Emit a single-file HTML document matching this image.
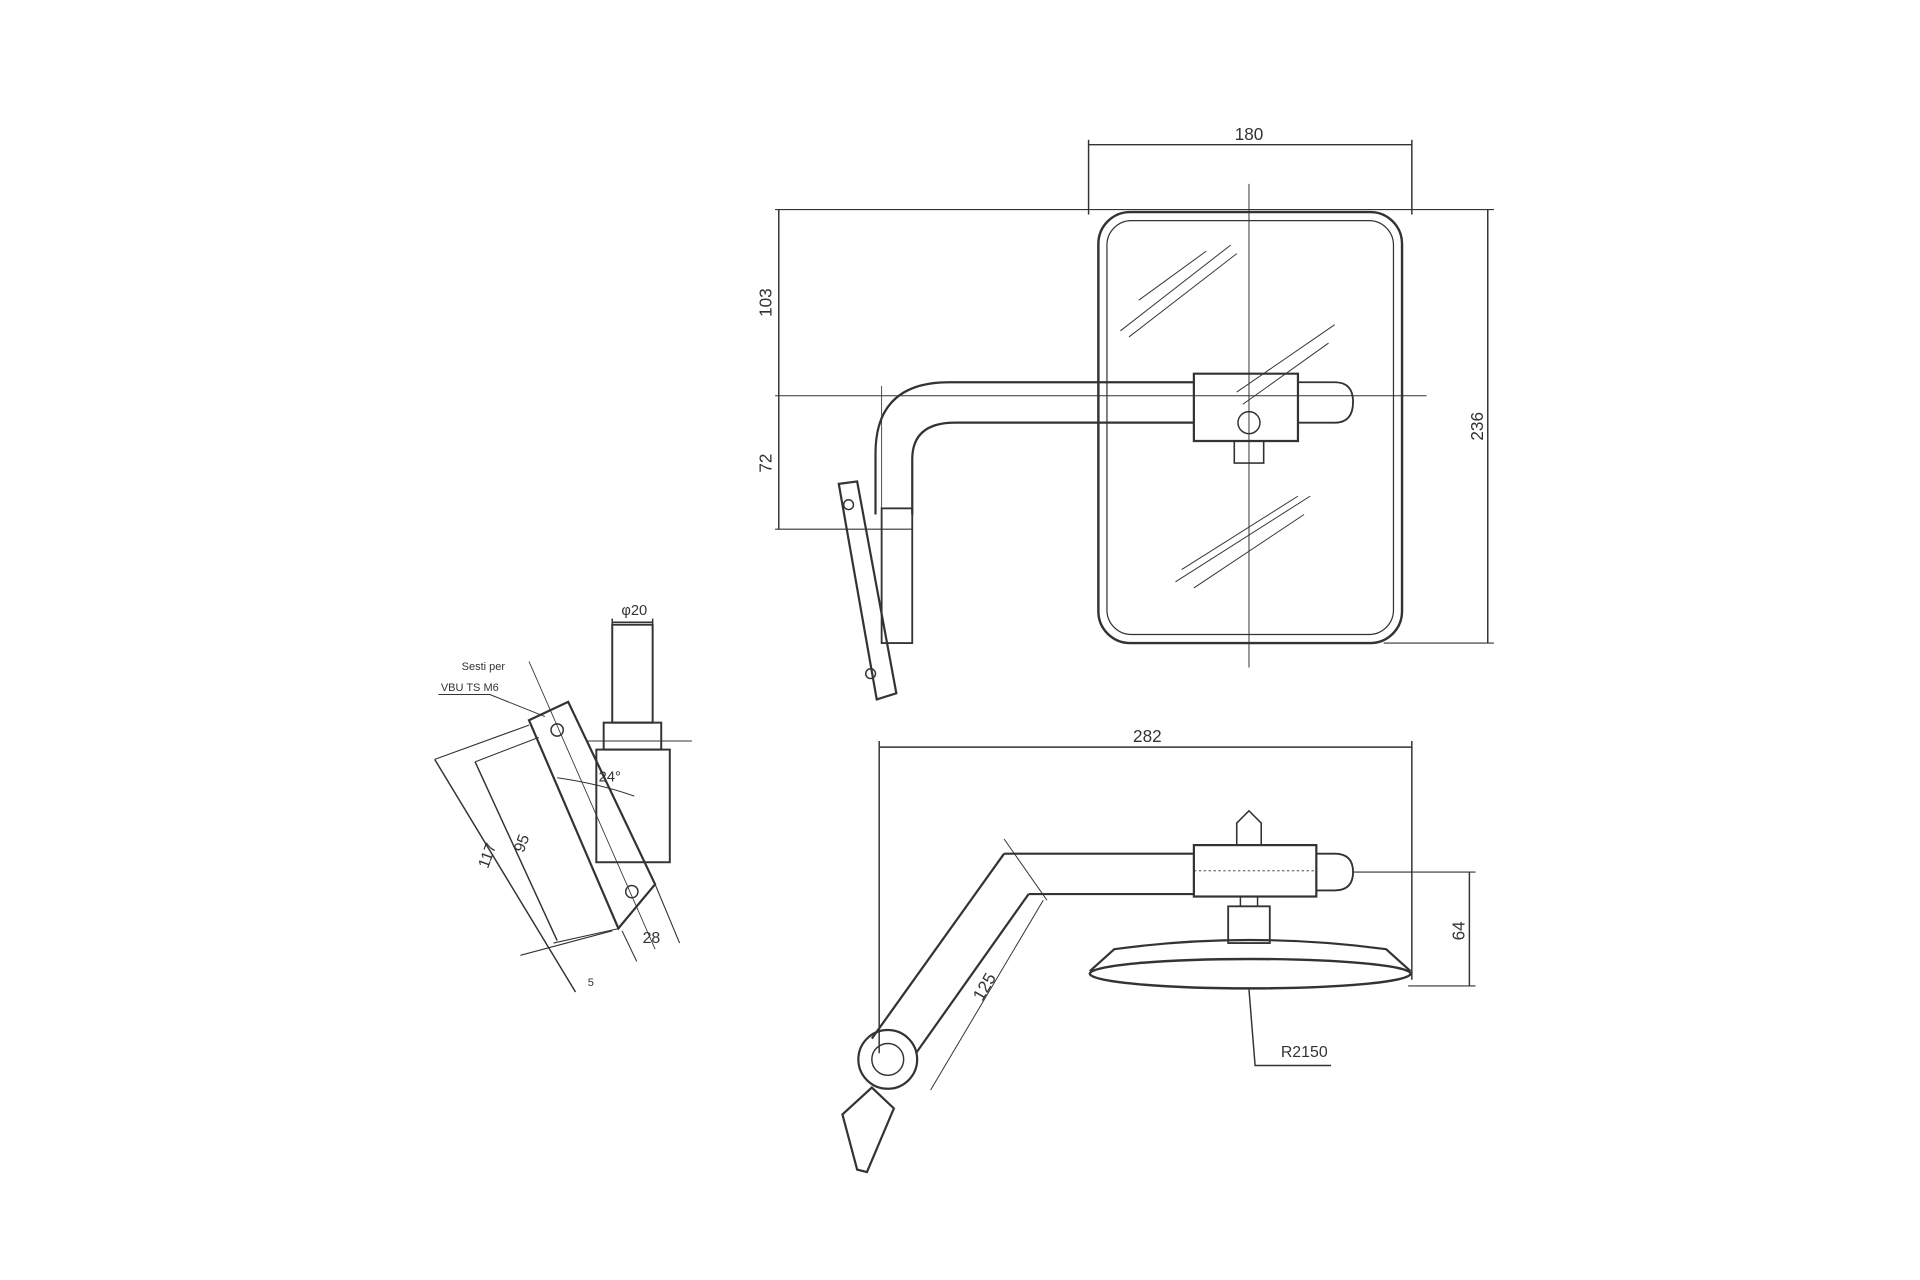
<!DOCTYPE html>
<html><head><style>html,body{margin:0;padding:0;background:#fff;width:1920px;height:1280px;overflow:hidden}</style></head>
<body>
<svg width="1920" height="1280" viewBox="0 0 1568 1045" xmlns="http://www.w3.org/2000/svg" font-family="Liberation Sans, sans-serif" fill="none" stroke="#333" stroke-width="1.2">
<!-- Front view dims -->
<line x1="889" y1="118" x2="1153" y2="118"/>
<line x1="889" y1="114" x2="889" y2="175"/>
<line x1="1153" y1="114" x2="1153" y2="175"/>
<text x="1020" y="114" font-size="14" fill="#333" stroke="none" text-anchor="middle">180</text>
<line x1="633" y1="171" x2="1220" y2="171" stroke-width="0.9"/>
<line x1="1130" y1="525" x2="1220" y2="525" stroke-width="0.9"/>
<line x1="1215" y1="171" x2="1215" y2="525"/>
<text x="0" y="0" font-size="14" fill="#333" stroke="none" text-anchor="middle" transform="translate(1211,348) rotate(-90)">236</text>
<line x1="636" y1="171" x2="636" y2="432"/>
<line x1="633" y1="323" x2="1165" y2="323" stroke-width="0.8"/>
<line x1="633" y1="432" x2="745" y2="432" stroke-width="0.9"/>
<text x="0" y="0" font-size="14" fill="#333" stroke="none" text-anchor="middle" transform="translate(630,247) rotate(-90)">103</text>
<text x="0" y="0" font-size="14" fill="#333" stroke="none" text-anchor="middle" transform="translate(630,378) rotate(-90)">72</text>
<line x1="1020" y1="150" x2="1020" y2="545" stroke-width="0.8"/>
<!-- mirror -->
<rect x="897" y="173" width="248" height="352" rx="26" stroke-width="2"/>
<rect x="904" y="180" width="234" height="338" rx="20" stroke-width="1"/>
<g stroke-width="0.8">
<line x1="915" y1="270" x2="1005" y2="200"/><line x1="922" y1="275" x2="1010" y2="207"/><line x1="930" y1="245" x2="985" y2="205"/>
<line x1="1010" y1="320" x2="1090" y2="265"/><line x1="1015" y1="330" x2="1085" y2="280"/>
<line x1="960" y1="475" x2="1070" y2="405"/><line x1="965" y1="465" x2="1060" y2="405"/><line x1="975" y1="480" x2="1065" y2="420"/>
</g>
<!-- arm -->
<path d="M715,420 L715,370 Q715,312 775,312 L975,312" stroke-width="1.8"/>
<path d="M745,420 L745,375 Q745,345 780,345 L975,345" stroke-width="1.8"/>
<line x1="720" y1="315" x2="720" y2="420" stroke-width="0.7"/>
<rect x="720" y="415" width="25" height="110" stroke-width="1.5"/>
<polygon points="685,395 700,393 732,566 716,571" stroke-width="1.8"/>
<circle cx="693" cy="412" r="4"/><circle cx="711" cy="550" r="4"/>
<path d="M975,305 L1060,305 L1060,360 L975,360 Z" stroke-width="1.8"/>
<path d="M1060,312 L1090,312 Q1105,312 1105,328 Q1105,345 1090,345 L1060,345" stroke-width="1.5"/>
<circle cx="1020" cy="345" r="9"/>
<rect x="1008" y="360" width="24" height="18" stroke-width="1.3"/>
<!-- Bottom view -->
<line x1="718" y1="610" x2="1153" y2="610"/>
<line x1="718" y1="605" x2="718" y2="860"/>
<line x1="1153" y1="605" x2="1153" y2="800"/>
<text x="937" y="606" font-size="14" fill="#333" stroke="none" text-anchor="middle">282</text>
<ellipse cx="1021" cy="795" rx="131" ry="12" stroke-width="2"/>
<path d="M890,793 L910,775 Q1020,760 1132,775 L1152,793" stroke-width="1.8"/>
<path d="M820,697 L975,697 M840,730 L975,730" stroke-width="1.8"/>
<path d="M820,697 L712,848 M840,730 L748,860" stroke-width="1.8"/>
<line x1="820" y1="685" x2="855" y2="735" stroke-width="0.8"/>
<rect x="975" y="690" width="100" height="42" stroke-width="1.8"/>
<line x1="975" y1="711" x2="1075" y2="711" stroke-dasharray="2,2" stroke-width="0.8"/>
<path d="M1075,697 L1090,697 Q1105,697 1105,712 Q1105,727 1090,727 L1075,727" stroke-width="1.5"/>
<path d="M1010,690 L1010,672 L1020,662 L1030,672 L1030,690" stroke-width="1.3"/>
<rect x="1003" y="740" width="34" height="30" stroke-width="1.5"/>
<line x1="1013" y1="732" x2="1013" y2="740"/><line x1="1027" y1="732" x2="1027" y2="740"/>
<circle cx="725" cy="865" r="24" stroke-width="1.8"/>
<circle cx="725" cy="865" r="13"/>
<polygon points="688,910 712,888 730,905 708,957 700,955" stroke-width="1.8"/>
<line x1="760" y1="890" x2="852" y2="735" stroke-width="0.8"/>
<text x="0" y="0" font-size="14" fill="#333" stroke="none" text-anchor="middle" transform="translate(808,808) rotate(-60)">125</text>
<line x1="1105" y1="712" x2="1205" y2="712" stroke-width="0.9"/>
<line x1="1150" y1="805" x2="1205" y2="805" stroke-width="0.9"/>
<line x1="1200" y1="712" x2="1200" y2="805"/>
<text x="0" y="0" font-size="14" fill="#333" stroke="none" text-anchor="middle" transform="translate(1196,760) rotate(-90)">64</text>
<polyline points="1020,808 1025,870 1087,870"/>
<text x="1046" y="863" font-size="13" fill="#333" stroke="none">R2150</text>
<!-- Side view -->
<rect x="500" y="510" width="33" height="80" stroke-width="1.6"/>
<line x1="500" y1="505" x2="500" y2="515"/><line x1="533" y1="505" x2="533" y2="515"/>
<line x1="500" y1="508" x2="533" y2="508"/>
<text x="518" y="502" font-size="12" fill="#333" stroke="none" text-anchor="middle">φ20</text>
<rect x="493" y="590" width="47" height="22" stroke-width="1.6"/>
<rect x="487" y="612" width="60" height="92" stroke-width="1.6"/>
<line x1="480" y1="605" x2="565" y2="605" stroke-width="0.8"/>
<polygon points="432,588 464,573 535,722 505,758" stroke-width="1.8"/>
<circle cx="455" cy="596" r="5"/><circle cx="516" cy="728" r="5"/>
<path d="M455,635 Q490,640 518,650" stroke-width="0.8"/>
<text x="498" y="638" font-size="12" fill="#333" stroke="none" text-anchor="middle">24°</text>
<line x1="432" y1="540" x2="535" y2="775" stroke-width="0.7"/>
<polyline points="355,620 432,592" stroke-width="0.9"/><line x1="355" y1="620" x2="470" y2="810"/>
<polyline points="388,622 440,602" stroke-width="0.9"/><line x1="388" y1="622" x2="455" y2="768"/>
<line x1="452" y1="770" x2="506" y2="758" stroke-width="0.9"/>
<line x1="425" y1="780" x2="500" y2="760" stroke-width="0.9"/>
<line x1="508" y1="760" x2="520" y2="785" stroke-width="0.9"/><line x1="535" y1="722" x2="555" y2="770" stroke-width="0.9"/>
<text x="0" y="0" font-size="13" fill="#333" stroke="none" text-anchor="middle" transform="translate(402,700) rotate(-70)">117</text>
<text x="0" y="0" font-size="13" fill="#333" stroke="none" text-anchor="middle" transform="translate(430,690) rotate(-70)">95</text>
<text x="532" y="770" font-size="13" fill="#333" stroke="none" text-anchor="middle">28</text>
<text x="480" y="805" font-size="9" fill="#333" stroke="none">5</text>
<text x="377" y="547" font-size="9" fill="#333" stroke="none">Sesti per</text>
<text x="360" y="564" font-size="9" fill="#333" stroke="none">VBU TS M6</text>
<polyline points="358,567 400,567 445,585" stroke-width="0.8"/>
</svg>
</body></html>
